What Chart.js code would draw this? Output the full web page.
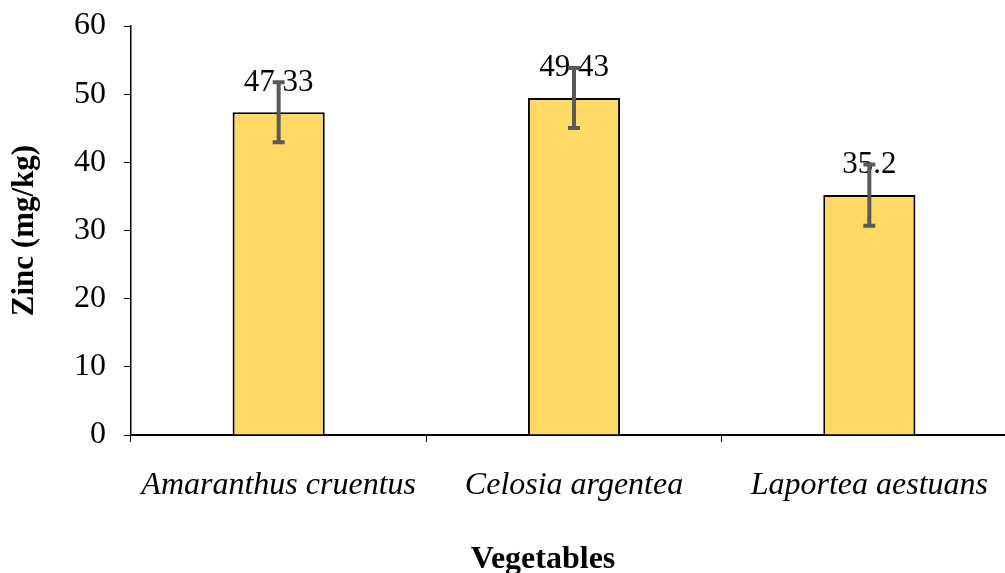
<!DOCTYPE html>
<html>
<head>
<meta charset="utf-8">
<script src="https://cdn.jsdelivr.net/npm/chart.js@4"></script>
<style>
  html, body { margin: 0; padding: 0; background: #fff; overflow: hidden; }
  #wrap { width: 1005px; height: 573px; overflow: hidden; }
</style>
</head>
<body>
<div id="wrap"><canvas id="grafico" width="1018" height="573"></canvas></div>
<script>
// dados
const vegetais = ['Amaranthus cruentus', 'Celosia argentea', 'Laportea aestuans'];
const zinco = [47.33, 49.43, 35.2];
const erro = [4.4, 4.4, 4.5];
const rotulos = ['47.33', '49.43', '35.2'];

// barras de erro + rótulos + título do eixo x
const errorBars = {
    id: 'errorBars',
    afterDatasetsDraw(chart) {
        const ctx = chart.ctx;
        const y = chart.scales.y;
        const meta = chart.getDatasetMeta(0);
        ctx.save();
        meta.data.forEach((bar, i) => {
            const yTop = y.getPixelForValue(zinco[i] + erro[i]);
            const yBot = y.getPixelForValue(zinco[i] - erro[i]);
            ctx.fillStyle = '#000';
            ctx.font = '31px "Liberation Serif"';
            ctx.textAlign = 'center';
            ctx.textBaseline = 'middle';
            ctx.fillText(rotulos[i], bar.x, bar.y - 30);

            ctx.strokeStyle = '#595959';
            ctx.lineWidth = 4;
            ctx.beginPath();
            ctx.moveTo(bar.x, yTop);
            ctx.lineTo(bar.x, yBot);
            ctx.moveTo(bar.x - 6, yTop);
            ctx.lineTo(bar.x + 6, yTop);
            ctx.moveTo(bar.x - 6, yBot);
            ctx.lineTo(bar.x + 6, yBot);
            ctx.stroke();
        });

        ctx.fillStyle = '#000';
        ctx.font = 'bold 32px "Liberation Serif"';
        ctx.textAlign = 'center';
        ctx.textBaseline = 'alphabetic';
        ctx.fillText('Vegetables', 543, 568);
        ctx.restore();
    }
};

const ctx = document.getElementById('grafico').getContext('2d');
new Chart(ctx, {
    type: 'bar',
    data: {
        labels: vegetais,
        datasets: [{
            data: zinco,
            backgroundColor: '#FFD966',
            borderColor: '#000',
            borderWidth: 2,
            barPercentage: 0.312,
            categoryPercentage: 1
        }]
    },
    options: {
        responsive: false,
        animation: false,
        layout: { autoPadding: false, padding: { top: 26, right: 1, left: 0, bottom: 0 } },
        plugins: {
            legend: { display: false },
            tooltip: { enabled: false }
        },
        scales: {
            y: {
                min: 0,
                max: 60,
                afterFit(scale) {
                    scale.width = 131;
                    scale.paddingTop = 0;
                    scale.paddingBottom = 0;
                },
                ticks: {
                    stepSize: 10,
                    color: '#000',
                    padding: 18,
                    font: { family: 'Liberation Serif', size: 32 }
                },
                grid: {
                    drawOnChartArea: false,
                    drawTicks: true,
                    tickLength: 7,
                    color: '#000'
                },
                border: { color: '#000', width: 1.5 },
                title: {
                    display: true,
                    text: 'Zinc (mg/kg)',
                    color: '#000',
                    padding: { top: 6, bottom: 0 },
                    font: { family: 'Liberation Serif', size: 31, weight: 'bold' }
                }
            },
            x: {
                afterFit(scale) { scale.height = 138; },
                ticks: {
                    color: '#000',
                    padding: 24,
                    font: { family: 'Liberation Serif', size: 32, style: 'italic' }
                },
                grid: {
                    offset: true,
                    drawOnChartArea: false,
                    drawTicks: true,
                    tickLength: 7,
                    color: '#000'
                },
                border: { color: '#000', width: 2 }
            }
        }
    },
    plugins: [errorBars]
});
</script>
</body>
</html>
